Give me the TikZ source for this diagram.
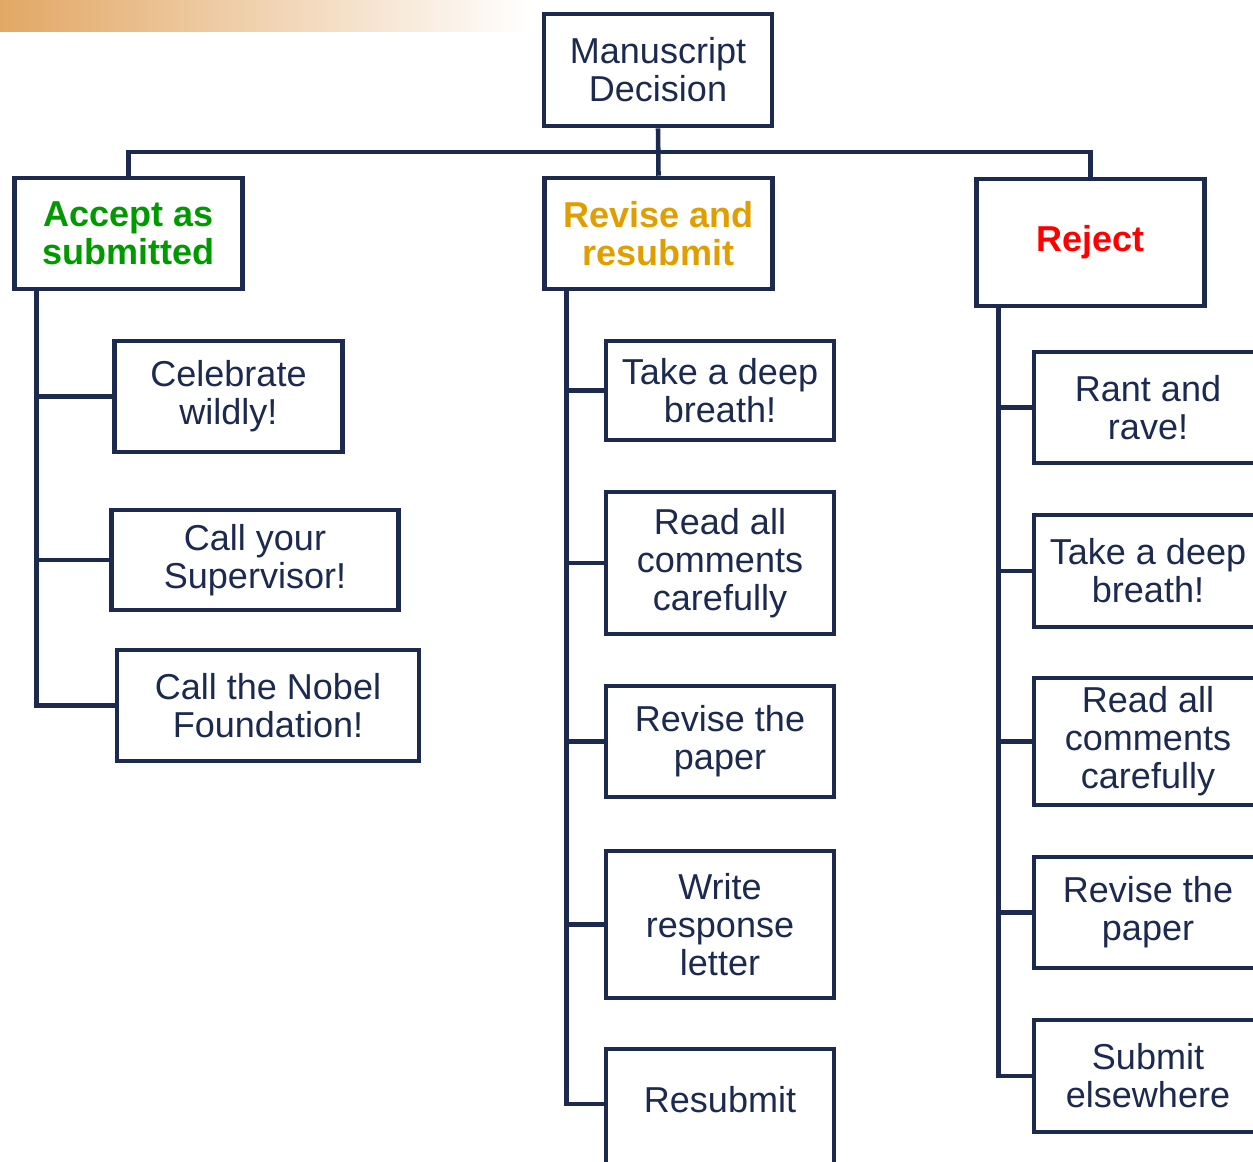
\documentclass[tikz,border=0pt]{standalone}
\usepackage{fontspec}
\setmainfont{Liberation Sans}
\usepackage{xcolor}
\usepackage{tikz}
\usetikzlibrary{positioning}
\definecolor{NavyLine}{HTML}{1C2A50}
\definecolor{AcceptGreen}{HTML}{009A00}
\definecolor{ReviseGold}{HTML}{E09E00}
\definecolor{RejectRed}{HTML}{FF0000}
\definecolor{BarOrange}{HTML}{E2A764}

\begin{document}
\begin{tikzpicture}[x=0.02cm,y=-0.02cm,
  box/.style={draw=NavyLine,line width=2.6pt,fill=white,align=center,inner sep=2pt,
    text=NavyLine,font=\fontsize{20.5}{21.6}\selectfont,minimum width=4.56cm},
  head/.style={box,font=\fontsize{20.5}{21.6}\selectfont\bfseries},
  link/.style={draw=NavyLine,line width=2.6pt}]
\useasboundingbox (0,0) rectangle (1253,1161);
\clip (0,0) rectangle (1253,1161);
\fill[left color=BarOrange,right color=white] (0,0) rectangle (530,31);

\node[box,minimum height=2.24cm] (top) at (658,70) {Manuscript\\Decision};
\node[head,text=AcceptGreen,minimum height=2.22cm] (acc) at (128.5,233.5) {Accept as\\submitted};
\node[head,text=ReviseGold,minimum height=2.22cm] (rev) at (658.5,233.5) {Revise and\\resubmit};
\node[head,text=RejectRed,minimum height=2.54cm] (rej) at (1090.5,242.5) {Reject};

\node[box,minimum height=2.22cm] (cel) at (228.5,396.5) {Celebrate\\wildly!};
\node[box,minimum width=5.74cm,minimum height=2cm] (sup) at (255,560) {Call your\\Supervisor!};
\node[box,minimum width=6.04cm,minimum height=2.22cm] (nob) at (268,705.5) {Call the Nobel\\Foundation!};

\node[box,minimum height=1.98cm] (rv1) at (720,390.5) {Take a deep\\breath!};
\node[box,minimum height=2.84cm] (rv2) at (720,563) {Read all\\comments\\carefully};
\node[box,minimum height=2.22cm] (rv3) at (720,741.5) {Revise the\\paper};
\node[box,minimum height=2.94cm] (rv4) at (720,924.5) {Write\\response\\letter};
\node[box,minimum height=2.40cm,text depth=11pt] (rv5) at (720,1109) {Resubmit};

\node[box,minimum height=2.22cm] (rj1) at (1148,407.5) {Rant and\\rave!};
\node[box,minimum height=2.24cm] (rj2) at (1148,571) {Take a deep\\breath!};
\node[box,minimum height=2.54cm] (rj3) at (1148,741.5) {Read all\\comments\\carefully};
\node[box,minimum height=2.22cm] (rj4) at (1148,912.5) {Revise the\\paper};
\node[box,minimum height=2.24cm] (rj5) at (1148,1076) {Submit\\elsewhere};

\coordinate (hub) at (658,152);
\draw[link] (top.south) -- (rev.north);
\draw[link] (acc.north) |- (hub) -| (rej.north);
\foreach \c in {cel,sup,nob}
  \draw[link] ([xshift=0.48cm]acc.south west) |- (\c.west);
\foreach \c in {rv1,rv2,rv3,rv4}
  \draw[link] ([xshift=0.48cm]rev.south west) |- (\c.west);
\draw[link] ([xshift=0.48cm]rev.south west) |- ([yshift=0.1cm]rv5.west);
\foreach \c in {rj1,rj2,rj3,rj4,rj5}
  \draw[link] ([xshift=0.48cm]rej.south west) |- (\c.west);
\end{tikzpicture}
\end{document}
